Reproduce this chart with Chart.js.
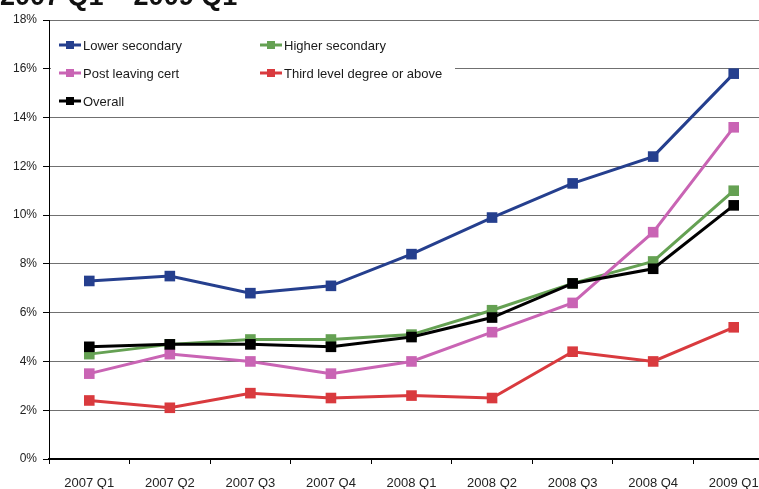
<!DOCTYPE html>
<html><head><meta charset="utf-8">
<script src="https://cdn.jsdelivr.net/npm/chart.js@4"></script>
<style>
html,body{margin:0;padding:0;background:#fff;overflow:hidden;width:759px;height:489px;}
#wrap{position:absolute;left:0;top:0;width:774px;height:489px;}
</style></head><body>
<div id="wrap"><canvas id="c" width="774" height="489"></canvas></div>
<script>
const titleText = '2007 Q1 \u2013 2009 Q1';
const categories = ['2007 Q1','2007 Q2','2007 Q3','2007 Q4','2008 Q1','2008 Q2','2008 Q3','2008 Q4','2009 Q1'];
const lowerSecondary = [7.3, 7.5, 6.8, 7.1, 8.4, 9.9, 11.3, 12.4, 15.8];
const higherSecondary = [4.3, 4.7, 4.9, 4.9, 5.1, 6.1, 7.2, 8.1, 11.0];
const postLeavingCert = [3.5, 4.3, 4.0, 3.5, 4.0, 5.2, 6.4, 9.3, 13.6];
const thirdLevel = [2.4, 2.1, 2.7, 2.5, 2.6, 2.5, 4.4, 4.0, 5.4];
const overall = [4.6, 4.7, 4.7, 4.6, 5.0, 5.8, 7.2, 7.8, 10.4];
const seriesLabels = ['Lower secondary','Higher secondary','Post leaving cert','Third level degree or above','Overall'];
const seriesColors = ['#253f8e','#65a153','#c964b4','#d93a3e','#000000'];
const yMin = 0, yMax = 18, yStep = 2;

const FONT = '"Liberation Sans", Arial, sans-serif';
const seriesData = [lowerSecondary, higherSecondary, postLeavingCert, thirdLevel, overall];
const drawOrder = [4, 3, 2, 1, 0];

const datasets = seriesData.map((d, i) => ({
  label: seriesLabels[i],
  data: d,
  borderColor: seriesColors[i],
  backgroundColor: seriesColors[i],
  borderWidth: 3,
  pointStyle: 'rect',
  pointRadius: 7.5,
  pointBorderWidth: 0,
  pointHoverRadius: 7.5,
  tension: 0,
  fill: false,
  clip: false,
  order: drawOrder[i]
}));

const legendBox = {
  id: 'legendBox',
  beforeDatasetsDraw(chart) {
    const ctx = chart.ctx;
    ctx.save();
    ctx.fillStyle = '#ffffff';
    ctx.fillRect(51, 29, 404, 82);
    const pos = [[59, 45], [260, 45], [59, 73], [260, 73], [59, 101]];
    ctx.font = '13px ' + FONT;
    ctx.textBaseline = 'middle';
    chart.data.datasets.forEach((ds, i) => {
      const [x, y] = pos[i];
      ctx.strokeStyle = ds.borderColor;
      ctx.lineWidth = 3;
      ctx.beginPath();
      ctx.moveTo(x, y);
      ctx.lineTo(x + 22, y);
      ctx.stroke();
      ctx.fillStyle = ds.borderColor;
      ctx.fillRect(x + 7, y - 4, 8, 8);
      ctx.fillStyle = '#1a1a1a';
      ctx.fillText(ds.label, x + 24, y + 1);
    });
    ctx.restore();
  }
};

const titlePlugin = {
  id: 'titleCut',
  afterDraw(chart) {
    const ctx = chart.ctx;
    ctx.save();
    ctx.font = 'bold 27px ' + FONT;
    ctx.fillStyle = '#111';
    ctx.textBaseline = 'alphabetic';
    ctx.fillText(titleText, 0, 5);
    ctx.restore();
  }
};

new Chart(document.getElementById('c'), {
  type: 'line',
  data: { labels: categories, datasets },
  plugins: [legendBox, titlePlugin],
  options: {
    responsive: false,
    animation: false,
    devicePixelRatio: 1,
    layout: { autoPadding: false, padding: { top: 20, left: 0, right: 0, bottom: 0 } },
    plugins: { legend: { display: false }, title: { display: false }, tooltip: { enabled: false } },
    scales: {
      x: {
        offset: true,
        grid: { offset: true, drawOnChartArea: false, drawTicks: true, tickLength: 5, color: '#000', tickColor: '#000', lineWidth: 1 },
        border: { display: true, color: '#000', width: 2 },
        ticks: { font: { family: FONT, size: 13 }, color: '#222', padding: 12, maxRotation: 0, autoSkip: false },
        afterFit(s) { s.height = 30; s.paddingLeft = 0; s.paddingRight = 0; }
      },
      y: {
        min: yMin, max: yMax,
        ticks: { stepSize: yStep, callback: v => v + '%', font: { family: FONT, size: 12 }, color: '#222', padding: 6 },
        grid: { color: '#707070', tickColor: '#000', tickLength: 6, lineWidth: 1 },
        border: { display: true, color: '#000', width: 1 },
        afterFit(s) { s.width = 49; }
      }
    }
  }
});
</script>
</body></html>
